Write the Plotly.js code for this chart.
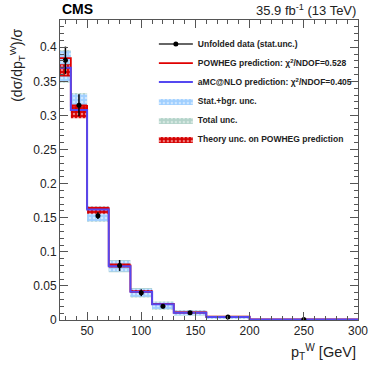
<!DOCTYPE html>
<html>
<head>
<meta charset="utf-8">
<script src="https://cdn.plot.ly/plotly-3.0.1.min.js"></script>
<style>
  body { margin: 0; background: white; }
  #chart { width: 374px; height: 369px; }
</style>
</head>
<body>
<div id="chart"></div>
<script>
// bin edges in pT^W (GeV)
let edges = [25, 35, 50, 70, 90, 110, 130, 160, 200, 300];
// unfolded data and stat. errors
let dataVals = [0.381, 0.315, 0.153, 0.080, 0.040, 0.020, 0.0105, 0.0043, 0.0006];
let dataErr = [0.020, 0.016, 0.005, 0.008, 0.005, 0.003, 0.002, 0.001, 0.0003];
// predictions
let powheg = [0.384, 0.314, 0.164, 0.080, 0.042, 0.0235, 0.011, 0.0050, 0.0008];
let amcnlo = [0.370, 0.308, 0.162, 0.079, 0.0415, 0.023, 0.0105, 0.0045, 0.0007];
// uncertainty bands (low, high)
let statLo = [0.350, 0.302, 0.145, 0.071, 0.034, 0.016, 0.007, 0.002, 0.0002];
let statHi = [0.394, 0.331, 0.166, 0.087, 0.046, 0.026, 0.014, 0.006, 0.0010];
let totLo = [0.348, 0.300, 0.144, 0.070, 0.033, 0.015, 0.0065, 0.0018, 0.0001];
let totHi = [0.396, 0.333, 0.167, 0.088, 0.047, 0.027, 0.0145, 0.0063, 0.0011];
let theoLo = [0.357, 0.296, 0.156, 0.077, 0.040, 0.022, 0.010, 0.0040, 0.0005];
let theoHi = [0.375, 0.316, 0.166, 0.083, 0.044, 0.025, 0.012, 0.0055, 0.0010];

// data points separated by gaps so the legend shows line+marker but no line is drawn
let dx = [], dy = [], de = [];
for (let i = 0; i < edges.length - 1; i++) {
  dx.push((edges[i] + edges[i + 1]) / 2, null);
  dy.push(dataVals[i], null);
  de.push(dataErr[i], 0);
}

function boxes(lo, hi) {
  let x = [], y = [];
  for (let i = 0; i < lo.length; i++) {
    x.push(edges[i], edges[i + 1], edges[i + 1], edges[i], edges[i], null);
    y.push(lo[i], lo[i], hi[i], hi[i], lo[i], null);
  }
  return { x: x, y: y };
}

function steps(vals) {
  return { x: edges, y: vals.concat([vals[vals.length - 1]]) };
}

let tot = boxes(totLo, totHi);
let stat = boxes(statLo, statHi);
let theo = boxes(theoLo, theoHi);
let pw = steps(powheg);
let amc = steps(amcnlo);

let traces = [
  {
    x: tot.x, y: tot.y, type: "scatter", mode: "lines", fill: "toself",
    name: "Total unc.", legendrank: 5,
    line: { width: 0 }, fillcolor: "#b3d3c9",
    fillpattern: { shape: ".", bgcolor: "#b3d3c9", fgcolor: "#d6e8e2", size: 4, solidity: 0.3 },
  },
  {
    x: stat.x, y: stat.y, type: "scatter", mode: "lines", fill: "toself",
    name: "Stat.+bgr. unc.", legendrank: 4,
    line: { width: 0 }, fillcolor: "#9fcfff",
    fillpattern: { shape: ".", bgcolor: "#9fcfff", fgcolor: "#cfe7ff", size: 4, solidity: 0.3 },
  },
  {
    x: theo.x, y: theo.y, type: "scatter", mode: "lines", fill: "toself",
    name: "Theory unc. on POWHEG prediction", legendrank: 6,
    line: { width: 0 }, fillcolor: "#d40000",
    fillpattern: { shape: ".", bgcolor: "#d40000", fgcolor: "#f08080", size: 4, solidity: 0.3 },
  },
  {
    x: pw.x, y: pw.y, type: "scatter", mode: "lines",
    name: "POWHEG prediction: \u03c7<sup>2</sup>/NDOF=0.528", legendrank: 2,
    line: { shape: "hv", color: "#e00000", width: 1.8 },
  },
  {
    x: amc.x, y: amc.y, type: "scatter", mode: "lines",
    name: "aMC@NLO prediction: \u03c7<sup>2</sup>/NDOF=0.405", legendrank: 3,
    line: { shape: "hv", color: "#5548f0", width: 2 },
  },
  {
    x: dx, y: dy, type: "scatter", mode: "lines+markers", connectgaps: false,
    name: "Unfolded data (stat.unc.)", legendrank: 1,
    line: { color: "#333", width: 1.5 },
    marker: { color: "black", size: 5 },
    error_y: { type: "data", array: de, color: "black", thickness: 1.5, width: 0 },
  },
];

let axisCommon = {
  showgrid: false, zeroline: false, showline: true, linecolor: "#555", linewidth: 1,
  mirror: "allticks", ticks: "inside", ticklen: 8, tickcolor: "#555",
  tickfont: { family: "Liberation Sans, Arial, sans-serif", size: 12, color: "#222" },
};

let layout = {
  width: 374, height: 369,
  margin: { l: 60, r: 16, t: 20, b: 49 },
  paper_bgcolor: "white", plot_bgcolor: "white",
  showlegend: true,
  legend: {
    x: 0.315, y: 0.968, xanchor: "left", yanchor: "top", itemwidth: 34,
    bgcolor: "rgba(0,0,0,0)", traceorder: "normal",
    font: { family: "Liberation Sans, Arial, sans-serif", size: 8.5, color: "#222", weight: "bold" },
  },
  xaxis: Object.assign({}, axisCommon, {
    range: [25, 300], dtick: 50, tick0: 0,
    minor: { ticks: "inside", ticklen: 4, dtick: 10, tickcolor: "#555" },
  }),
  yaxis: Object.assign({}, axisCommon, {
    range: [0, 0.44], dtick: 0.05, tick0: 0,
    minor: { ticks: "inside", ticklen: 4, dtick: 0.01, tickcolor: "#555" },
  }),
  annotations: [
    {
      text: "CMS", xref: "paper", yref: "paper", x: 0, y: 1, xanchor: "left", yanchor: "bottom",
      yshift: 1, showarrow: false,
      font: { family: "Liberation Sans, Arial, sans-serif", size: 14, color: "black", weight: "bold" },
    },
    {
      text: "35.9 fb<sup>-1</sup> (13 TeV)", xref: "paper", yref: "paper", x: 1, y: 1,
      xanchor: "right", yanchor: "bottom", yshift: 0, showarrow: false,
      font: { family: "Liberation Sans, Arial, sans-serif", size: 13, color: "#222" },
    },
    {
      text: "(d\u03c3/dp<sub>T</sub><sup>W</sup>)/\u03c3", xref: "paper", yref: "paper",
      x: -0.145, y: 0.85, xanchor: "center", yanchor: "middle", textangle: -90, showarrow: false,
      font: { family: "Liberation Sans, Arial, sans-serif", size: 14, color: "#222" },
    },
    {
      text: "p<sub>T</sub><sup>W</sup> [GeV]", xref: "paper", yref: "paper",
      x: 1, y: 0, xanchor: "right", yanchor: "top", yshift: -20, showarrow: false,
      font: { family: "Liberation Sans, Arial, sans-serif", size: 14.5, color: "#222" },
    },
  ],
};

Plotly.newPlot("chart", traces, layout, { displayModeBar: false, staticPlot: true });
</script>
</body>
</html>
